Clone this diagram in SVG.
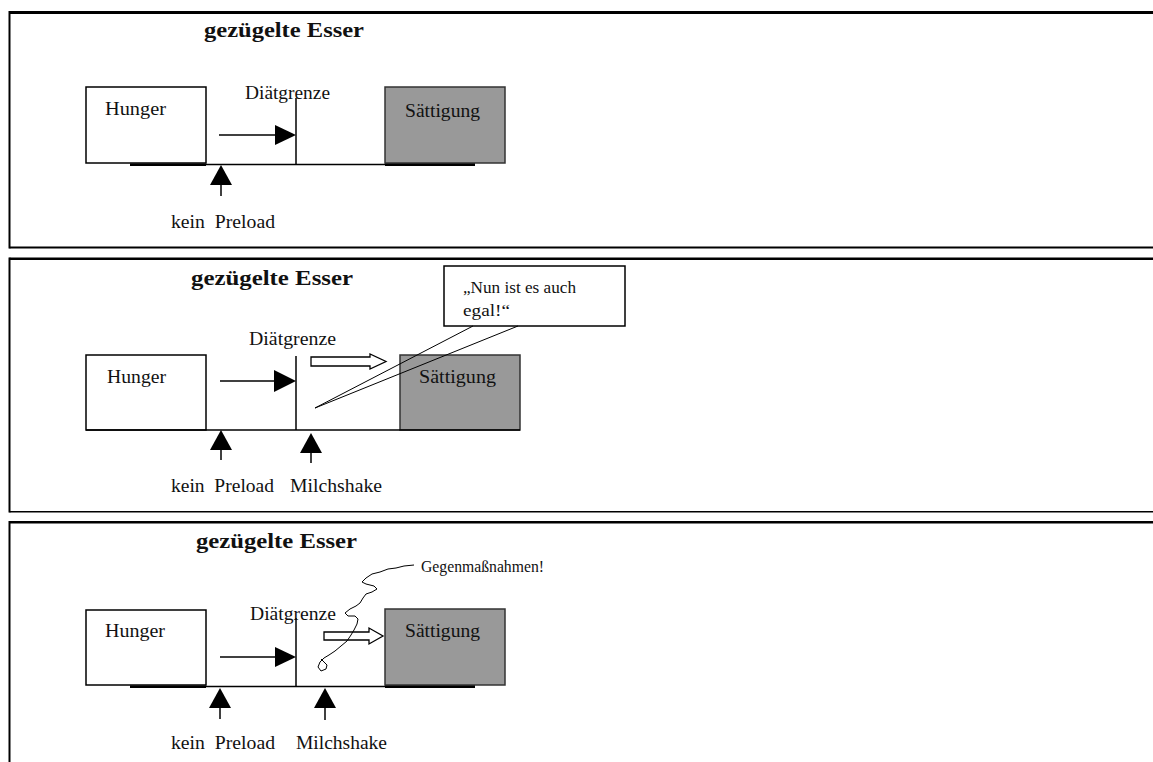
<svg xmlns="http://www.w3.org/2000/svg" width="1153" height="762" viewBox="0 0 1153 762">
<defs>
<style>
text{font-family:"Liberation Serif","Times New Roman",serif;fill:#111;white-space:pre;}
.t{font-size:21px;font-weight:bold;}
.l{font-size:18px;}
.s{font-size:16px;}
.frame{stroke:#000;fill:none;}
.box{fill:#fff;stroke:#000;stroke-width:1.5;}
.gray{fill:#999;stroke:#333;stroke-width:1.5;}
.ln{stroke:#000;stroke-width:1.5;fill:none;}
.thick{stroke:#000;stroke-width:2.5;fill:none;}
.head{fill:#000;stroke:none;}
.hollow{fill:#fff;stroke:#000;stroke-width:1.3;}
.thin{stroke:#000;stroke-width:1;fill:none;}
</style>
</defs>
<rect width="1153" height="762" fill="#fff"/>

<g id="panel1">
<line class="frame" x1="9.5" y1="12.5" x2="1153" y2="12.5" stroke-width="3"/>
<line class="frame" x1="9.5" y1="11" x2="9.5" y2="248.5" stroke-width="2"/>
<line class="frame" x1="9.5" y1="247.5" x2="1153" y2="247.5" stroke-width="2"/>
<text class="t" x="204" y="37" textLength="160" lengthAdjust="spacingAndGlyphs">gezügelte Esser</text>
</g>
<g id="hunger1"><rect class="box" x="86" y="87" width="120" height="76"/><text class="l" x="105" y="115" textLength="61" lengthAdjust="spacingAndGlyphs">Hunger</text></g>
<g id="diaet1"><line class="ln" x1="296" y1="98" x2="296" y2="164"/><text class="l" x="245" y="99" textLength="85" lengthAdjust="spacingAndGlyphs">Diätgrenze</text></g>
<g id="saett1"><rect class="gray" x="385" y="87" width="120" height="76"/><text class="l" x="405" y="117" textLength="75" lengthAdjust="spacingAndGlyphs">Sättigung</text></g>
<g id="preload1"><text class="l" x="171" y="228" textLength="104" lengthAdjust="spacingAndGlyphs">kein  Preload</text></g>

<g id="panel2">
<line class="frame" x1="9.5" y1="258.8" x2="1153" y2="258.8" stroke-width="2.5"/>
<line class="frame" x1="9.5" y1="257.5" x2="9.5" y2="512.5" stroke-width="2"/>
<line class="frame" x1="9.5" y1="511.8" x2="1153" y2="511.8" stroke-width="1.6"/>
<text class="t" x="191" y="285" textLength="162" lengthAdjust="spacingAndGlyphs">gezügelte Esser</text>
</g>
<g id="callout2"><rect class="box" x="444" y="266" width="181" height="60" stroke-width="1.2"/><text class="s" x="463" y="293" textLength="113" lengthAdjust="spacingAndGlyphs">„Nun ist es auch</text><text class="s" x="463" y="316" textLength="47" lengthAdjust="spacingAndGlyphs">egal!“</text></g>
<g id="hunger2"><rect class="box" x="86" y="355" width="120" height="75"/><text class="l" x="107" y="383" textLength="59" lengthAdjust="spacingAndGlyphs">Hunger</text></g>
<g id="diaet2"><line class="ln" x1="296" y1="356" x2="296" y2="430"/><text class="l" x="249" y="345" textLength="87" lengthAdjust="spacingAndGlyphs">Diätgrenze</text></g>
<g id="saett2"><rect class="gray" x="400" y="355" width="120" height="75"/><text class="l" x="419" y="383" textLength="77" lengthAdjust="spacingAndGlyphs">Sättigung</text></g>
<g id="preload2"><text class="l" x="171" y="492" textLength="103" lengthAdjust="spacingAndGlyphs">kein  Preload</text></g>
<g id="milch2"><text class="l" x="290" y="492" textLength="92" lengthAdjust="spacingAndGlyphs">Milchshake</text></g>

<g id="panel3">
<line class="frame" x1="9.5" y1="522.3" x2="1153" y2="522.3" stroke-width="2.5"/>
<line class="frame" x1="9.5" y1="521" x2="9.5" y2="762" stroke-width="2"/>
<text class="t" x="196" y="548" textLength="161" lengthAdjust="spacingAndGlyphs">gezügelte Esser</text>
</g>
<g id="gegen3"><text class="s" x="421" y="572" textLength="123" lengthAdjust="spacingAndGlyphs">Gegenmaßnahmen!</text></g>
<g id="hunger3"><rect class="box" x="86" y="610" width="120" height="75"/><text class="l" x="105" y="637" textLength="60" lengthAdjust="spacingAndGlyphs">Hunger</text></g>
<g id="diaet3"><line class="ln" x1="296" y1="618" x2="296" y2="686"/><text class="l" x="250" y="620" textLength="86" lengthAdjust="spacingAndGlyphs">Diätgrenze</text></g>
<g id="saett3"><rect class="gray" x="385" y="609" width="120" height="76"/><text class="l" x="405" y="637" textLength="75" lengthAdjust="spacingAndGlyphs">Sättigung</text></g>
<g id="preload3"><text class="l" x="171" y="749" textLength="104" lengthAdjust="spacingAndGlyphs">kein  Preload</text></g>
<g id="milch3"><text class="l" x="296" y="749" textLength="91" lengthAdjust="spacingAndGlyphs">Milchshake</text></g>

<g id="connectors">
<line class="ln" x1="130" y1="164.5" x2="475" y2="164.5"/>
<line class="thick" x1="130" y1="164.8" x2="206" y2="164.8"/>
<line class="thick" x1="385" y1="164.8" x2="475" y2="164.8"/>
<line class="ln" x1="219" y1="135" x2="276" y2="135"/>
<polygon class="head" points="275,125 296,135 275,145"/>
<polygon class="head" points="221,165 210,185 232,185"/>
<line class="ln" x1="221" y1="184" x2="221" y2="196"/>
<line class="ln" x1="86" y1="430" x2="520" y2="430"/>
<line class="ln" x1="220" y1="381" x2="275" y2="381"/>
<polygon class="head" points="274,370 296,381 274,392"/>
<polygon class="head" points="221,430 210,450 232,450"/>
<line class="ln" x1="221" y1="449" x2="221" y2="460"/>
<polygon class="head" points="311,433 300,453 322,453"/>
<line class="ln" x1="311" y1="452" x2="311" y2="463"/>
<polygon class="hollow" points="311,357 370,357 370,354 386,361.5 370,369 370,366 311,366"/>
<polyline class="thin" points="473,326 315,408 518,326"/>
<line class="ln" x1="130" y1="686.5" x2="475" y2="686.5"/>
<line class="thick" x1="130" y1="686.8" x2="206" y2="686.8"/>
<line class="thick" x1="385" y1="686.8" x2="475" y2="686.8"/>
<line class="ln" x1="220" y1="657" x2="276" y2="657"/>
<polygon class="head" points="275,647 296,657 275,667"/>
<polygon class="head" points="220,688 209,708 231,708"/>
<line class="ln" x1="220" y1="707" x2="220" y2="719"/>
<polygon class="head" points="325,688 314,708 336,708"/>
<line class="ln" x1="325" y1="707" x2="325" y2="720"/>
<polygon class="hollow" points="324,632 369,632 369,628 383,636 369,644 369,640 324,640"/>
<path class="thin" d="M 414 565 L 404 566 L 396 568 L 388 569 L 380 572 L 372 574 L 366 578 L 362 582 L 366 584 L 374 586 L 377 589 L 372 592 L 366 594 L 363 598 L 360 603 L 356 606 L 350 609 L 345 613 L 348 616 L 355 616 L 358 619 L 357 624 L 354 630 L 351 635 L 347 641 L 341 646 L 335 651 L 329 655 L 324 658 L 320 662 L 318 667 L 321 671 L 326 669 L 327 665 L 323 661 L 321 659"/>
</g>
</svg>
